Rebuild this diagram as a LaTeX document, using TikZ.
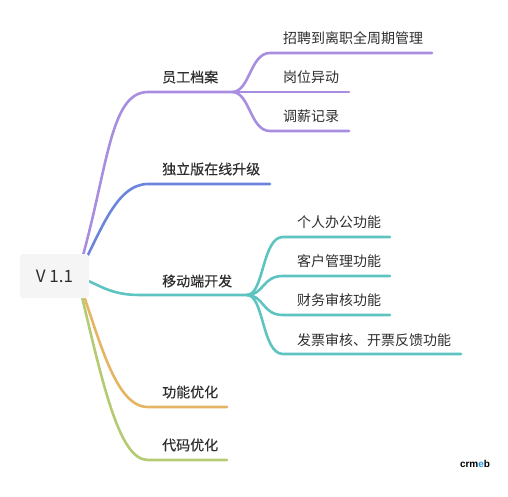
\documentclass[tikz,border=0pt]{standalone}
\usepackage{fontspec}
\usepackage{xcolor}
\setmainfont{Noto Sans CJK SC}
\newfontfamily\topicfont[FakeBold=0.25]{Noto Sans CJK SC}
\newfontfamily\logofont{Liberation Sans}
\usetikzlibrary{positioning,backgrounds}
\definecolor{staffc}{HTML}{A98DE0}
\definecolor{upgradec}{HTML}{6C84DC}
\definecolor{mobilec}{HTML}{5EC4C2}
\definecolor{tunec}{HTML}{E5B563}
\definecolor{codec}{HTML}{B4CB73}
\definecolor{logoc}{HTML}{1E9BE8}

\begin{document}
\begin{tikzpicture}[
  x=1pt, y=-1pt,
  font=\fontsize{14}{16}\selectfont, text=black!82,
  item/.style={anchor=west, inner sep=0pt},
  topic/.style={item, font=\topicfont\fontsize{14}{16}\selectfont},
  rootbox/.style={fill=black!4, rounded corners=3pt, minimum width=69pt, minimum height=44pt, inner sep=0pt, font=\fontsize{17}{20}\selectfont},
  wire/.style={line width=2.6pt, line cap=round}]
  \useasboundingbox (0,0) rectangle (508,497);
  % centre
  \node[rootbox] (root) at (54.5,276) {V 1.1};
  \coordinate (rootout) at (77,276);
  % first level
  \node[topic] (staff) at (162,77) {员工档案};
  \node[topic] (upgrade) at (162,169) {独立版在线升级};
  \node[topic] (mobile) at (162,281) {移动端开发};
  \node[topic] (tune) at (162,392) {功能优化};
  \node[topic] (code) at (162,445) {代码优化};
  % staff items
  \node[item] (hire) at (283,38) {招聘到离职全周期管理};
  \node[item] (post) at (283,77) {岗位异动};
  \node[item] (pay) at (283,116) {调薪记录};
  % mobile items
  \node[item] (office) at (297,222) {个人办公功能};
  \node[item] (client) at (297,261) {客户管理功能};
  \node[item] (audit) at (297,300) {财务审核功能};
  \node[item] (bill) at (297,340) {发票审核、开票反馈功能};
  \node[inner sep=0pt, text=black, font=\logofont\bfseries\fontsize{10}{10}\selectfont] (logo) at (475,464) {crm\textcolor{logoc}{e}b};
  % line ends
  \coordinate (staffin) at (148,92);
  \coordinate (staffout) at (232,92);
  \coordinate (upgradein) at (148,184);
  \coordinate (upgradeend) at (270,184);
  \coordinate (mobilein) at (140,295);
  \coordinate (mobileout) at (247,295);
  \coordinate (tunein) at (148,407);
  \coordinate (tuneend) at (227,407);
  \coordinate (codein) at (148,460);
  \coordinate (codeend) at (227,460);
  \coordinate (hirein) at (270,53);
  \coordinate (hireend) at (432,53);
  \coordinate (postend) at (349,92);
  \coordinate (payin) at (270,131);
  \coordinate (payend) at (349,131);
  \coordinate (officein) at (283,237);
  \coordinate (officeend) at (390,237);
  \coordinate (clientin) at (283,276);
  \coordinate (clientend) at (390,276);
  \coordinate (auditin) at (283,315);
  \coordinate (auditend) at (390,315);
  \coordinate (billin) at (283,354);
  \coordinate (billend) at (461,354);
  \begin{scope}[on background layer]
    \draw[wire, staffc] (rootout) .. controls (108,175) and (108,92) .. (staffin) -- (staffout);
    \draw[wire, upgradec] (rootout) .. controls (100,235) and (115,184) .. (upgradein) -- (upgradeend);
    \draw[wire, mobilec] (rootout) .. controls (100,285) and (110,295) .. (mobilein) -- (mobileout);
    \draw[wire, tunec] (rootout) .. controls (100,340) and (115,407) .. (tunein) -- (tuneend);
    \draw[wire, codec] (rootout) .. controls (102,380) and (118,460) .. (codein) -- (codeend);
  \end{scope}
  \draw[wire, staffc] (staffout) .. controls (250,92) and (250,53) .. (hirein) -- (hireend);
  \draw[wire, staffc] (staffout) -- (postend);
  \draw[wire, staffc] (staffout) .. controls (250,92) and (250,131) .. (payin) -- (payend);
  \draw[wire, mobilec] (mobileout) .. controls (264,295) and (262,237) .. (officein) -- (officeend);
  \draw[wire, mobilec] (mobileout) .. controls (264,295) and (262,276) .. (clientin) -- (clientend);
  \draw[wire, mobilec] (mobileout) .. controls (264,295) and (262,315) .. (auditin) -- (auditend);
  \draw[wire, mobilec] (mobileout) .. controls (264,295) and (262,354) .. (billin) -- (billend);
\end{tikzpicture}
\end{document}
